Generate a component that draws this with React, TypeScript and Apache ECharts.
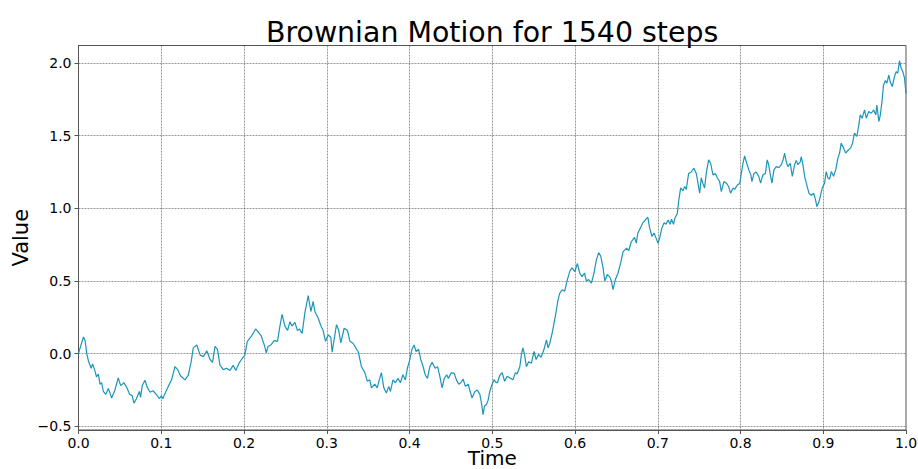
import React, { useEffect, useRef } from "react";
import * as echarts from "echarts";

const titleText = "Brownian Motion for 1540 steps";
const xName = "Time";
const yName = "Value";

// Path, split into time segments: [time, value]
const pathA: [number, number][] = [
  [0, 0.0], [0.003, 0.06], [0.006, 0.115], [0.008, 0.09], [0.01, 0.0], [0.012, -0.05],
  [0.0153, -0.1], [0.017, -0.07], [0.02, -0.12], [0.0217, -0.16], [0.024, -0.14],
  [0.026, -0.21], [0.028, -0.2], [0.03, -0.26], [0.033, -0.28], [0.036, -0.24],
  [0.038, -0.27], [0.04, -0.305], [0.044, -0.25], [0.048, -0.167], [0.051, -0.22],
  [0.055, -0.2], [0.058, -0.23], [0.062, -0.28], [0.065, -0.29], [0.067, -0.34],
  [0.07, -0.31], [0.0735, -0.26], [0.075, -0.3], [0.077, -0.22], [0.0803, -0.183],
  [0.083, -0.23], [0.0865, -0.265], [0.09, -0.255], [0.094, -0.28], [0.0977, -0.31],
  [0.1, -0.29], [0.102, -0.31], [0.104, -0.28], [0.1085, -0.225], [0.1125, -0.18],
  [0.1165, -0.09], [0.12, -0.11], [0.123, -0.15], [0.1286, -0.18], [0.1326, -0.15],
  [0.136, -0.06], [0.1387, 0.04], [0.143, 0.06], [0.147, -0.01], [0.151, -0.02],
  [0.155, 0.02], [0.159, -0.04], [0.162, -0.06], [0.165, 0.05], [0.168, 0.03],
];

const pathB: [number, number][] = [
  [0.171, -0.08], [0.175, -0.11], [0.179, -0.1], [0.183, -0.115], [0.187, -0.08],
  [0.19, -0.115], [0.194, -0.065], [0.197, -0.04], [0.201, -0.01], [0.204, 0.085],
  [0.209, 0.12], [0.214, 0.17], [0.217, 0.15], [0.221, 0.12], [0.225, 0.05],
  [0.227, 0.005], [0.229, 0.05], [0.2325, 0.06], [0.2365, 0.09], [0.2405, 0.085],
  [0.2434, 0.19], [0.246, 0.27], [0.2494, 0.19], [0.2527, 0.16], [0.2555, 0.22],
  [0.258, 0.19], [0.2615, 0.215], [0.2645, 0.16], [0.267, 0.17], [0.2703, 0.14],
  [0.2735, 0.28], [0.2776, 0.4], [0.2808, 0.29], [0.2836, 0.36], [0.2856, 0.29],
  [0.2896, 0.245], [0.293, 0.19], [0.2956, 0.16], [0.2985, 0.085], [0.302, 0.13],
  [0.305, 0.11], [0.3065, 0.01], [0.309, 0.1], [0.3118, 0.2], [0.3145, 0.16],
  [0.317, 0.075], [0.321, 0.175], [0.325, 0.16], [0.328, 0.085], [0.332, 0.07],
  [0.336, 0.03], [0.338, 0.015],
];

const pathC: [number, number][] = [
  [0.342, -0.09], [0.346, -0.13], [0.349, -0.19], [0.352, -0.18], [0.354, -0.235],
  [0.358, -0.21], [0.361, -0.235], [0.363, -0.19], [0.366, -0.13], [0.369, -0.235],
  [0.372, -0.27], [0.375, -0.225], [0.377, -0.26], [0.38, -0.18], [0.383, -0.2],
  [0.386, -0.17], [0.389, -0.2], [0.392, -0.145], [0.395, -0.18], [0.3975, -0.1],
  [0.4, -0.05], [0.403, 0.03], [0.4055, 0.06], [0.408, 0.015], [0.411, 0.03],
  [0.4136, -0.04], [0.4165, -0.09], [0.419, -0.145], [0.4217, -0.17], [0.4245, -0.09],
  [0.4273, -0.06], [0.431, -0.1], [0.434, -0.09], [0.4366, -0.155], [0.4394, -0.235],
  [0.442, -0.17], [0.445, -0.145], [0.447, -0.17], [0.4507, -0.13], [0.454, -0.135],
  [0.4567, -0.18], [0.4595, -0.21], [0.462, -0.2], [0.4648, -0.175], [0.4675, -0.225],
  [0.471, -0.21], [0.4728, -0.25], [0.4756, -0.305], [0.479, -0.26], [0.482, -0.25],
  [0.485, -0.28], [0.487, -0.34], [0.489, -0.42], [0.4906, -0.36], [0.493, -0.35],
  [0.495, -0.32], [0.497, -0.26], [0.4998, -0.21], [0.502, -0.18], [0.505, -0.2],
];

const pathD: [number, number][] = [
  [0.5063, -0.2], [0.509, -0.15], [0.512, -0.13], [0.515, -0.19], [0.518, -0.155],
  [0.521, -0.165], [0.525, -0.18], [0.528, -0.13], [0.53, -0.14], [0.5333, -0.09],
  [0.5353, -0.005], [0.537, 0.04], [0.539, -0.005], [0.5413, -0.09], [0.544, -0.055],
  [0.5473, -0.065], [0.5505, 0.015], [0.553, -0.04], [0.556, -0.005], [0.559, -0.025],
  [0.5626, 0.03], [0.5655, 0.095], [0.5675, 0.04], [0.5695, 0.07], [0.5723, 0.14],
  [0.5747, 0.21], [0.5775, 0.3], [0.5795, 0.37], [0.5815, 0.415], [0.5845, 0.44],
  [0.5875, 0.43], [0.5908, 0.51], [0.5936, 0.565], [0.5964, 0.59], [0.5998, 0.565],
  [0.6029, 0.62], [0.6057, 0.555], [0.6085, 0.53], [0.6115, 0.555], [0.6137, 0.5],
  [0.6165, 0.51], [0.6198, 0.485], [0.623, 0.555], [0.6258, 0.645], [0.6286, 0.695],
  [0.6312, 0.67], [0.6339, 0.59], [0.636, 0.5], [0.639, 0.545], [0.6418, 0.53],
  [0.644, 0.5], [0.6459, 0.44], [0.6488, 0.51], [0.652, 0.555], [0.6552, 0.625],
  [0.658, 0.7], [0.6621, 0.725], [0.665, 0.71], [0.668, 0.77], [0.672, 0.8],
];

const pathE: [number, number][] = [
  [0.674, 0.76], [0.676, 0.83], [0.679, 0.865], [0.682, 0.9], [0.685, 0.92],
  [0.688, 0.94], [0.69, 0.87], [0.693, 0.806], [0.6955, 0.83], [0.698, 0.795],
  [0.7003, 0.76], [0.7023, 0.795], [0.705, 0.865], [0.7077, 0.9], [0.71, 0.89],
  [0.7125, 0.92], [0.715, 0.89], [0.7166, 0.925], [0.719, 0.89], [0.7206, 0.93],
  [0.7237, 0.966], [0.7252, 1.047], [0.7277, 1.14], [0.7305, 1.12], [0.7325, 1.15],
  [0.7345, 1.13], [0.7373, 1.24], [0.7405, 1.25], [0.7437, 1.276], [0.7466, 1.24],
  [0.7486, 1.173], [0.7506, 1.104], [0.7526, 1.21], [0.7546, 1.17], [0.7566, 1.14],
  [0.7586, 1.24], [0.7615, 1.333], [0.7639, 1.31], [0.7667, 1.23], [0.7695, 1.24],
  [0.772, 1.21], [0.7748, 1.184], [0.7768, 1.115], [0.78, 1.184], [0.7829, 1.173],
  [0.7857, 1.15], [0.788, 1.104], [0.791, 1.14], [0.793, 1.13], [0.7962, 1.16],
  [0.799, 1.17], [0.801, 1.24], [0.803, 1.31], [0.805, 1.36], [0.807, 1.32],
  [0.81, 1.265], [0.8125, 1.23], [0.8138, 1.184], [0.8163, 1.24], [0.819, 1.25],
  [0.822, 1.22], [0.8243, 1.173], [0.827, 1.23], [0.8301, 1.24], [0.8323, 1.333],
  [0.834, 1.3], [0.8364, 1.22], [0.838, 1.173], [0.8404, 1.265], [0.8432, 1.287],
];

const pathF: [number, number][] = [
  [0.8464, 1.28], [0.8493, 1.3], [0.8513, 1.33], [0.8533, 1.38], [0.8553, 1.32],
  [0.8573, 1.287], [0.8601, 1.31], [0.8626, 1.22], [0.8654, 1.3], [0.8674, 1.33],
  [0.8694, 1.3], [0.8722, 1.32], [0.8734, 1.356], [0.8754, 1.3], [0.8775, 1.22],
  [0.8795, 1.173], [0.8827, 1.104], [0.8855, 1.09], [0.8884, 1.104], [0.8907, 1.058],
  [0.8923, 1.012], [0.8948, 1.045], [0.8964, 1.08], [0.8988, 1.14], [0.9016, 1.173],
  [0.9036, 1.253], [0.9056, 1.21], [0.9077, 1.2], [0.9097, 1.253], [0.9125, 1.22],
  [0.915, 1.264], [0.9177, 1.345], [0.9197, 1.38], [0.9217, 1.448], [0.9246, 1.414],
  [0.927, 1.38], [0.93, 1.4], [0.933, 1.414], [0.9354, 1.448], [0.9378, 1.517],
  [0.9406, 1.494], [0.943, 1.574], [0.9447, 1.643], [0.947, 1.62], [0.9499, 1.677],
  [0.952, 1.62], [0.955, 1.666], [0.958, 1.654], [0.961, 1.677], [0.9635, 1.643],
  [0.9648, 1.711], [0.9672, 1.597], [0.969, 1.643], [0.9712, 1.746], [0.9728, 1.849],
  [0.9752, 1.88], [0.9768, 1.86], [0.9793, 1.917], [0.9809, 1.87], [0.9833, 1.837],
  [0.9861, 1.906], [0.9881, 1.94], [0.99, 1.929], [0.9922, 2.016], [0.9942, 1.963],
  [0.9962, 1.94], [0.9982, 1.895], [1.0, 1.79],
];

const FONT = "'DejaVu Sans', sans-serif";
const LINE_COLOR = "#1a96b9";
const AXIS_COLOR = "#555555";

const fmt = (v: number) => v.toFixed(1).replace("-", "\u2212");

export default function App() {
  const ref = useRef<HTMLDivElement>(null);

  useEffect(() => {
    if (!ref.current) return;
    const chart = echarts.init(ref.current, undefined, { renderer: "svg" });
    const data = [...pathA, ...pathB, ...pathC, ...pathD, ...pathE, ...pathF];
    chart.setOption({
      animation: false,
      backgroundColor: "#ffffff",
      title: {
        text: titleText,
        left: 261,
        top: 13,
        textStyle: { fontFamily: FONT, fontSize: 28.4, fontWeight: "normal", color: "#000" },
      },
      grid: {
        left: 78.5,
        right: 12,
        top: 45.5,
        bottom: 39,
        outerBoundsMode: "none",
        containLabel: false,
        show: true,
        borderColor: AXIS_COLOR,
        borderWidth: 1,
        backgroundColor: "transparent",
      },
      xAxis: {
        type: "value",
        min: 0,
        max: 1,
        interval: 0.1,
        name: xName,
        nameLocation: "middle",
        nameGap: 19,
        nameMoveOverlap: false,
        nameTextStyle: { fontFamily: FONT, fontSize: 20, lineHeight: 17, color: "#000" },
        axisLine: { show: true, onZero: false, lineStyle: { color: AXIS_COLOR, width: 1 } },
        axisTick: { show: true, inside: false, length: 4, lineStyle: { color: AXIS_COLOR } },
        axisLabel: {
          formatter: fmt,
          fontFamily: FONT,
          fontSize: 14,
          lineHeight: 14,
          color: "#000",
          margin: 6,
        },
        splitLine: {
          show: true,
          showMinLine: false,
          showMaxLine: false,
          lineStyle: { color: "#333", width: 0.5, type: [2, 1] },
        },
      },
      yAxis: {
        type: "value",
        min: -0.525,
        max: 2.12,
        splitNumber: 5,
        name: yName,
        nameLocation: "middle",
        nameGap: 47,
        nameMoveOverlap: false,
        nameRotate: 90,
        nameTextStyle: { fontFamily: FONT, fontSize: 21, lineHeight: 21, color: "#000" },
        axisLine: { show: true, onZero: false, lineStyle: { color: AXIS_COLOR, width: 1 } },
        axisTick: { show: true, inside: false, length: 4, lineStyle: { color: AXIS_COLOR } },
        axisLabel: {
          formatter: fmt,
          fontFamily: FONT,
          fontSize: 14,
          color: "#000",
          margin: 7,
          showMinLabel: false,
          showMaxLabel: false,
        },
        splitLine: {
          show: true,
          showMinLine: false,
          showMaxLine: false,
          lineStyle: { color: "#333", width: 0.5, type: [2, 1] },
        },
      },
      series: [
        {
          type: "line",
          data,
          showSymbol: false,
          symbol: "none",
          lineStyle: { color: LINE_COLOR, width: 1.2 },
          itemStyle: { color: LINE_COLOR },
        },
      ],
    });
    return () => chart.dispose();
  }, []);

  return (
    <div
      ref={ref}
      style={{ position: "fixed", left: 0, top: 0, width: 918, height: 469, background: "#fff" }}
    />
  );
}
